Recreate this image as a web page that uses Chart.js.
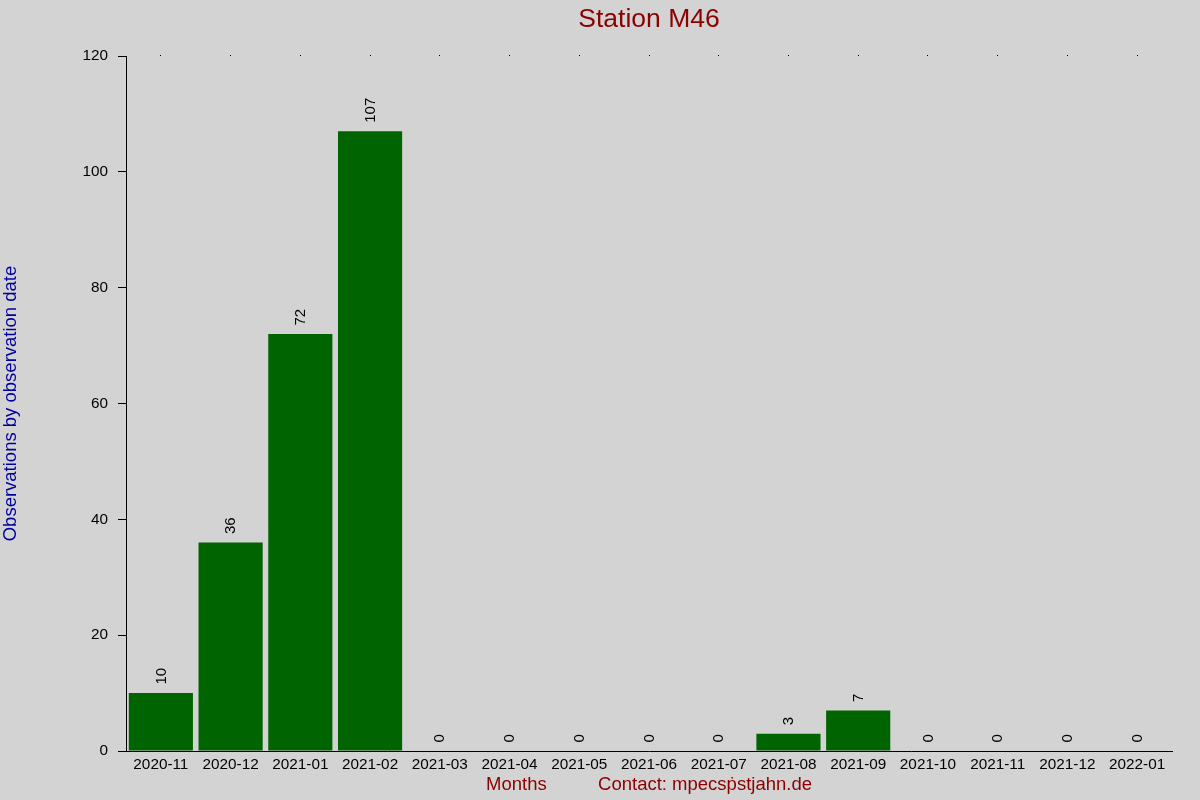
<!DOCTYPE html>
<html>
<head>
<meta charset="utf-8">
<script src="https://cdn.jsdelivr.net/npm/chart.js@4"></script>
<style>
  html, body { margin: 0; padding: 0; background: #d3d3d3; }
  #wrap { width: 1200px; height: 800px; position: relative; }
</style>
</head>
<body>
<div id="wrap"><canvas id="c"></canvas></div>
<script>
const categories = ["2020-11","2020-12","2021-01","2021-02","2021-03","2021-04","2021-05","2021-06","2021-07","2021-08","2021-09","2021-10","2021-11","2021-12","2022-01"];
const observations = [10, 36, 72, 107, 0, 0, 0, 0, 0, 3, 7, 0, 0, 0, 0];
const yTicks = [0, 20, 40, 60, 80, 100, 120];
const chartTitle = "Station M46";
const yTitle = "Observations by observation date";
const xTitle = "Months          Contact: mpecs\u1E57stjahn.de";

const FONT = "'Liberation Sans', Arial, sans-serif";

const bgPlugin = {
  id: 'bg',
  beforeDraw(chart) {
    const ctx = chart.ctx;
    ctx.save();
    ctx.fillStyle = '#d3d3d3';
    ctx.fillRect(0, 0, chart.width, chart.height);
    ctx.restore();
  }
};

const valueLabels = {
  id: 'valueLabels',
  afterDatasetsDraw(chart) {
    const ctx = chart.ctx;
    const meta = chart.getDatasetMeta(0);
    const data = chart.data.datasets[0].data;
    ctx.save();
    ctx.fillStyle = '#000';
    ctx.font = "15px " + FONT;
    ctx.textAlign = 'left';
    ctx.textBaseline = 'middle';
    meta.data.forEach((bar, i) => {
      ctx.save();
      ctx.translate(bar.x + 0.5, bar.y - 8.5);
      ctx.rotate(-Math.PI / 2);
      ctx.fillText(String(data[i]), 0, 0);
      ctx.restore();
    });
    ctx.restore();
  }
};

new Chart(document.getElementById('c'), {
  type: 'bar',
  data: {
    labels: categories,
    datasets: [{
      data: observations,
      backgroundColor: '#006400',
      borderWidth: 0,
      categoryPercentage: 1.0,
      barPercentage: 0.92
    }]
  },
  options: {
    responsive: true,
    maintainAspectRatio: false,
    animation: false,
    layout: { padding: { left: 0, right: 28, top: 0, bottom: 0 } },
    plugins: {
      legend: { display: false },
      tooltip: { enabled: false },
      title: {
        display: true,
        text: chartTitle,
        fullSize: false,
        color: '#8b0000',
        font: { family: FONT, size: 26.5, weight: 'normal' },
        padding: { top: 3.5, bottom: 10.7 }
      }
    },
    scales: {
      x: {
        type: 'category',
        position: 'bottom',
        offset: true,
        grid: { display: false, drawTicks: false },
        border: { display: true, color: '#000', width: 1 },
        ticks: {
          color: '#000',
          font: { family: FONT, size: 15.3 },
          autoSkip: false,
          maxRotation: 0,
          minRotation: 0,
          padding: 5
        },
        title: {
          display: true,
          text: xTitle,
          color: '#8b0000',
          font: { family: FONT, size: 18.5 },
          padding: { top: 0, bottom: 3.5 }
        },
        afterFit(scale) { scale.height = 49; }
      },
      x2: {
        type: 'category',
        position: 'top',
        labels: categories,
        offset: true,
        grid: { display: true, drawOnChartArea: false, drawTicks: true, tickLength: 1, tickColor: '#000', offset: false },
        border: { display: false },
        ticks: { display: false },
        afterFit(scale) { scale.height = 10; }
      },
      y: {
        min: 0,
        max: 120,
        afterBuildTicks(scale) { scale.ticks = yTicks.map(v => ({ value: v })); },
        grid: { display: true, drawOnChartArea: false, drawTicks: true, tickLength: 8, tickColor: '#000' },
        border: { display: true, color: '#000', width: 1 },
        ticks: {
          color: '#000',
          font: { family: FONT, size: 15.3 },
          padding: 10
        },
        title: {
          display: true,
          text: yTitle,
          color: '#0000a0',
          font: { family: FONT, size: 18.5 },
          padding: { top: 0, bottom: 0 }
        },
        afterFit(scale) { scale.width = 126; }
      }
    }
  },
  plugins: [bgPlugin, valueLabels]
});
</script>
</body>
</html>
